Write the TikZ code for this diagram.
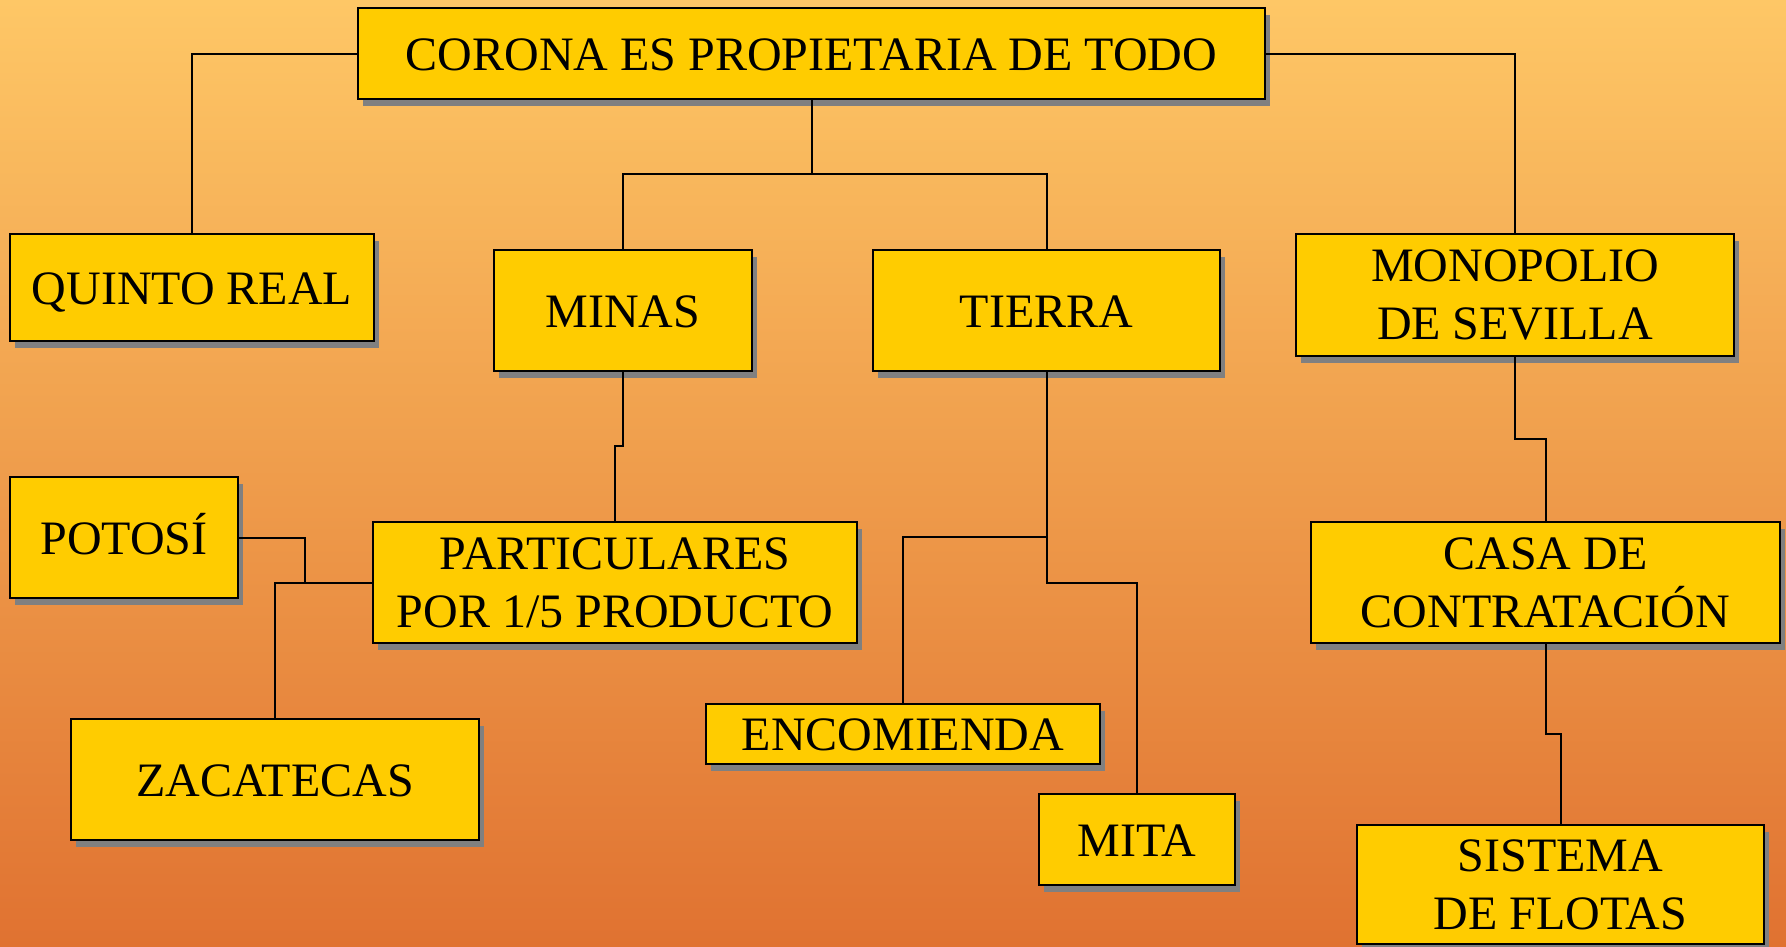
\documentclass[tikz,border=0pt]{standalone}
\usepackage{fontspec}
\setmainfont{Liberation Serif}
\usetikzlibrary{shadows}
\definecolor{bgtop}{HTML}{FEC766}
\definecolor{bgbot}{HTML}{E07231}
\definecolor{boxfill}{HTML}{FFCC00}
\definecolor{shadowgray}{HTML}{808080}
\begin{document}
\begin{tikzpicture}[x=1pt,y=-1pt,
  bx/.style={draw=black, line width=2.5pt, fill=boxfill, inner sep=0pt, align=center,
    font=\fontsize{48}{58}\selectfont,
    drop shadow={shadow xshift=5pt, shadow yshift=-7pt, fill=shadowgray, opacity=1}},
  one/.style={text height=33pt, text depth=0pt},
  conn/.style={draw=black, line width=2pt}]
\useasboundingbox (0,0) rectangle (1786,946);
\shade[top color=bgtop, bottom color=bgbot] (0,0) rectangle (1786,946);
% boxes
\node[bx, one, minimum width=907pt, minimum height=91pt] (corona) at (811.5,53.5) {CORONA ES PROPIETARIA DE TODO};
\node[bx, one, minimum width=364pt, minimum height=107pt] (quinto) at (192,287.5) {QUINTO REAL};
\node[bx, one, minimum width=258pt, minimum height=121pt] (minas) at (623,310.5) {MINAS};
\node[bx, one, minimum width=347pt, minimum height=121pt] (tierra) at (1046.5,310.5) {TIERRA};
\node[bx, minimum width=438pt, minimum height=122pt] (mono) at (1515,295) {MONOPOLIO\\DE SEVILLA};
\node[bx, minimum width=469pt, minimum height=121pt] (casa) at (1545.5,582.5) {CASA DE\\CONTRATACIÓN};
\node[bx, minimum width=407pt, minimum height=119pt] (sistema) at (1560.5,884.5) {SISTEMA\\DE FLOTAS};
\node[bx, minimum width=484pt, minimum height=121pt] (part) at (615,582.5) {PARTICULARES\\POR 1/5 PRODUCTO};
\node[bx, one, minimum width=228pt, minimum height=121pt] (potosi) at (124,537.5) {POTOSÍ};
\node[bx, one, minimum width=408pt, minimum height=121pt] (zac) at (275,779.5) {ZACATECAS};
\node[bx, one, minimum width=394pt, minimum height=60pt] (enc) at (903,734) {ENCOMIENDA};
\node[bx, one, minimum width=196pt, minimum height=91pt] (mita) at (1137,839.5) {MITA};
% junctions
\coordinate (j1) at (811.5,174);
\coordinate (j2) at (615,446);
\coordinate (j3) at (305,582.5);
\coordinate (j5) at (1046.5,583);
\coordinate (j6) at (1046.5,537);
\coordinate (j7) at (1515,439);
\coordinate (j8) at (1545.5,734);
% connectors
\draw[conn] (corona.west) -| (quinto.north);
\draw[conn] (corona.east) -| (mono.north);
\draw[conn] (corona.south) -- (j1);
\draw[conn] (minas.north) |- (j1) -| (tierra.north);
\draw[conn] (minas.south) |- (j2) -- (part.north);
\draw[conn] (potosi.east) -| (j3);
\draw[conn] (part.west) -- (zac.north |- part.west) -- (zac.north);
\draw[conn] (tierra.south) -- (j5) -| (mita.north);
\draw[conn] (j6) -| (enc.north);
\draw[conn] (mono.south) -- (j7) -| (casa.north);
\draw[conn] (casa.south) -- (j8) -| (sistema.north);
\end{tikzpicture}
\end{document}
